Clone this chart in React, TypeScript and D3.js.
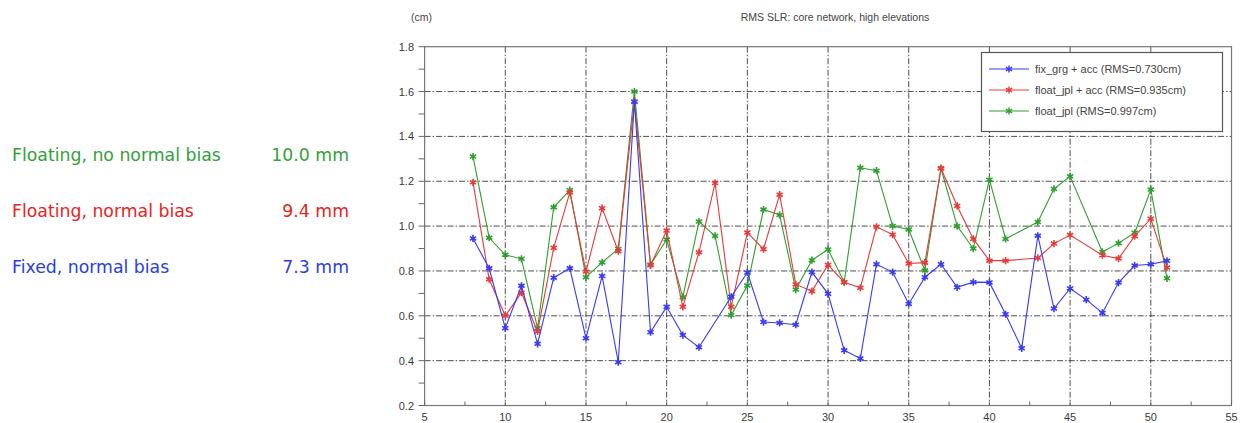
import React from 'react';
import * as d3 from 'd3';

const stations = d3.range(8, 52);

// values, null where a series has no point
const fixedAcc: (number | null)[] = [
  0.945, 0.812, 0.545, 0.734, 0.475, 0.77, 0.812, 0.5, 0.777, 0.393,
  1.555, 0.527, 0.64, 0.514, 0.46, null, 0.685, 0.793, 0.572, 0.568,
  0.56, 0.795, 0.698, 0.446, 0.41, 0.83, 0.795, 0.653, 0.772, 0.83,
  0.727, 0.75, 0.749, 0.607, 0.455, 0.957, 0.632, 0.722, 0.672, 0.613,
  0.748, 0.824, 0.83, 0.845,
];
const floatAcc: (number | null)[] = [
  1.195, 0.763, 0.6, 0.703, 0.53, 0.903, 1.15, 0.797, 1.08, 0.888,
  1.555, 0.825, 0.98, 0.64, 0.883, 1.192, 0.64, 0.971, 0.897, 1.14,
  0.74, 0.71, 0.827, 0.75, 0.725, 0.997, 0.962, 0.833, 0.837, 1.258,
  1.09, 0.943, 0.846, 0.846, null, 0.858, 0.922, 0.96, null, 0.87,
  0.855, 0.955, 1.033, 0.815,
];
const floatOnly: (number | null)[] = [
  1.31, 0.948, 0.872, 0.854, 0.545, 1.084, 1.16, 0.772, 0.838, 0.898,
  1.6, 0.828, 0.94, 0.683, 1.02, 0.956, 0.603, 0.735, 1.074, 1.05,
  0.717, 0.848, 0.896, 0.75, 1.26, 1.247, 1.0, 0.985, 0.802, 1.258,
  1.0, 0.9, 1.207, 0.943, null, 1.018, 1.166, 1.222, null, 0.885,
  0.924, 0.97, 1.163, 0.767,
];

const seriesNames = ['fix_grg + acc (RMS=0.730cm)', 'float_jpl + acc (RMS=0.935cm)', 'float_jpl (RMS=0.997cm)'];
const seriesColors = ['#3a3af0', '#e83a3a', '#2e9e2e'];

const sideLabels = ['Floating, no normal bias', 'Floating, normal bias', 'Fixed, normal bias'];
const sideValues = ['10.0 mm', '9.4 mm', '7.3 mm'];
const sideColors = ['#34a03c', '#e8231e', '#2a3ee0'];

const xTicks = d3.range(5, 56, 5);
const yTicks = [0.2, 0.4, 0.6, 0.8, 1.0, 1.2, 1.4, 1.6, 1.8];

const W = 1241;
const H = 423;

const App: React.FC = () => {
  const x = d3.scaleLinear().domain([5, 55]).range([424.6, 1231.5]);
  const y = d3.scaleLinear().domain([0.2, 1.8]).range([405.5, 46.7]);

  const all = [fixedAcc, floatAcc, floatOnly];
  const pts = all.map((vals) =>
    stations
      .map((s, i) => ({ s, v: vals[i] }))
      .filter((d) => d.v !== null) as { s: number; v: number }[]
  );

  const line = d3.line<{ s: number; v: number }>()
    .x((d) => x(d.s))
    .y((d) => y(d.v));

  const star = d3.symbol().type(d3.symbolAsterisk).size(36)();
  const grid = '6,2,1.5,2';
  const axisFont = '"Liberation Sans", Arial, sans-serif';

  const drawOrder = [2, 1, 0];

  return (
    <svg width={W} height={H} style={{ position: 'absolute', left: 0, top: 0, background: '#fff' }}>
      {/* side labels */}
      {sideLabels.map((t, i) => (
        <g key={t} fill={sideColors[i]} fontFamily='"DejaVu Sans", sans-serif' fontSize={17.3}>
          <text x={12} y={161 + i * 56}>{t}</text>
          <text x={349} y={161 + i * 56} textAnchor="end">{sideValues[i]}</text>
        </g>
      ))}

      <text x={411} y={21} fontSize={10.5} fill="#444" fontFamily={axisFont}>(cm)</text>
      <text x={835} y={21} fontSize={10.5} fill="#444" textAnchor="middle" fontFamily={axisFont}>
        RMS SLR: core network, high elevations
      </text>

      {/* grid */}
      {xTicks.slice(1, -1).map((t) => (
        <line key={'gx' + t} x1={x(t)} x2={x(t)} y1={y(1.8)} y2={y(0.2)} stroke="#222" strokeWidth={0.8} strokeDasharray={grid} />
      ))}
      {yTicks.slice(1, -1).map((t) => (
        <line key={'gy' + t} x1={x(5)} x2={x(55)} y1={y(t)} y2={y(t)} stroke="#222" strokeWidth={0.8} strokeDasharray={grid} />
      ))}

      {/* frame */}
      <rect x={x(5)} y={y(1.8)} width={x(55) - x(5)} height={y(0.2) - y(1.8)} fill="none" stroke="#777" strokeWidth={1.2} />

      {/* ticks */}
      {d3.range(0.2, 1.81, 0.1).map((t) => (
        <line key={'ty' + t} x1={x(5) - 6} x2={x(5)} y1={y(t)} y2={y(t)} stroke="#666" strokeWidth={1} />
      ))}
      {d3.range(5, 55.1, 2.5).map((t) => (
        <line key={'tx' + t} x1={x(t)} x2={x(t)} y1={y(0.2)} y2={y(0.2) - 4} stroke="#666" strokeWidth={1} />
      ))}
      {yTicks.map((t) => (
        <text key={'ly' + t} x={414} y={y(t) + 4} fontSize={11} fill="#3a3a3a" textAnchor="end" fontFamily={axisFont}>
          {t.toFixed(1)}
        </text>
      ))}
      {xTicks.map((t) => (
        <text key={'lx' + t} x={x(t)} y={421} fontSize={11} fill="#3a3a3a" textAnchor="middle" fontFamily={axisFont}>
          {t}
        </text>
      ))}

      {/* series */}
      {drawOrder.map((k) => (
        <g key={'s' + k}>
          <path d={line(pts[k]) || ''} fill="none" stroke={seriesColors[k]} strokeWidth={1.1} />
          {pts[k].map((d) => (
            <path key={d.s} d={star || ''} transform={`translate(${x(d.s)},${y(d.v)})`} fill="none" stroke={seriesColors[k]} strokeWidth={1.6} />
          ))}
        </g>
      ))}

      {/* legend */}
      <rect x={981.5} y={52.5} width={241} height={79} fill="#fff" stroke="#555" strokeWidth={1.2} />
      {seriesNames.map((n, i) => (
        <g key={n}>
          <line x1={989} x2={1029} y1={69 + i * 21} y2={69 + i * 21} stroke={seriesColors[i]} strokeWidth={1.1} />
          <path d={star || ''} transform={`translate(1009,${69 + i * 21})`} fill="none" stroke={seriesColors[i]} strokeWidth={1.4} />
          <text x={1035} y={73 + i * 21} fontSize={11} fill="#444" fontFamily={axisFont}>{n}</text>
        </g>
      ))}
    </svg>
  );
};

export default App;
